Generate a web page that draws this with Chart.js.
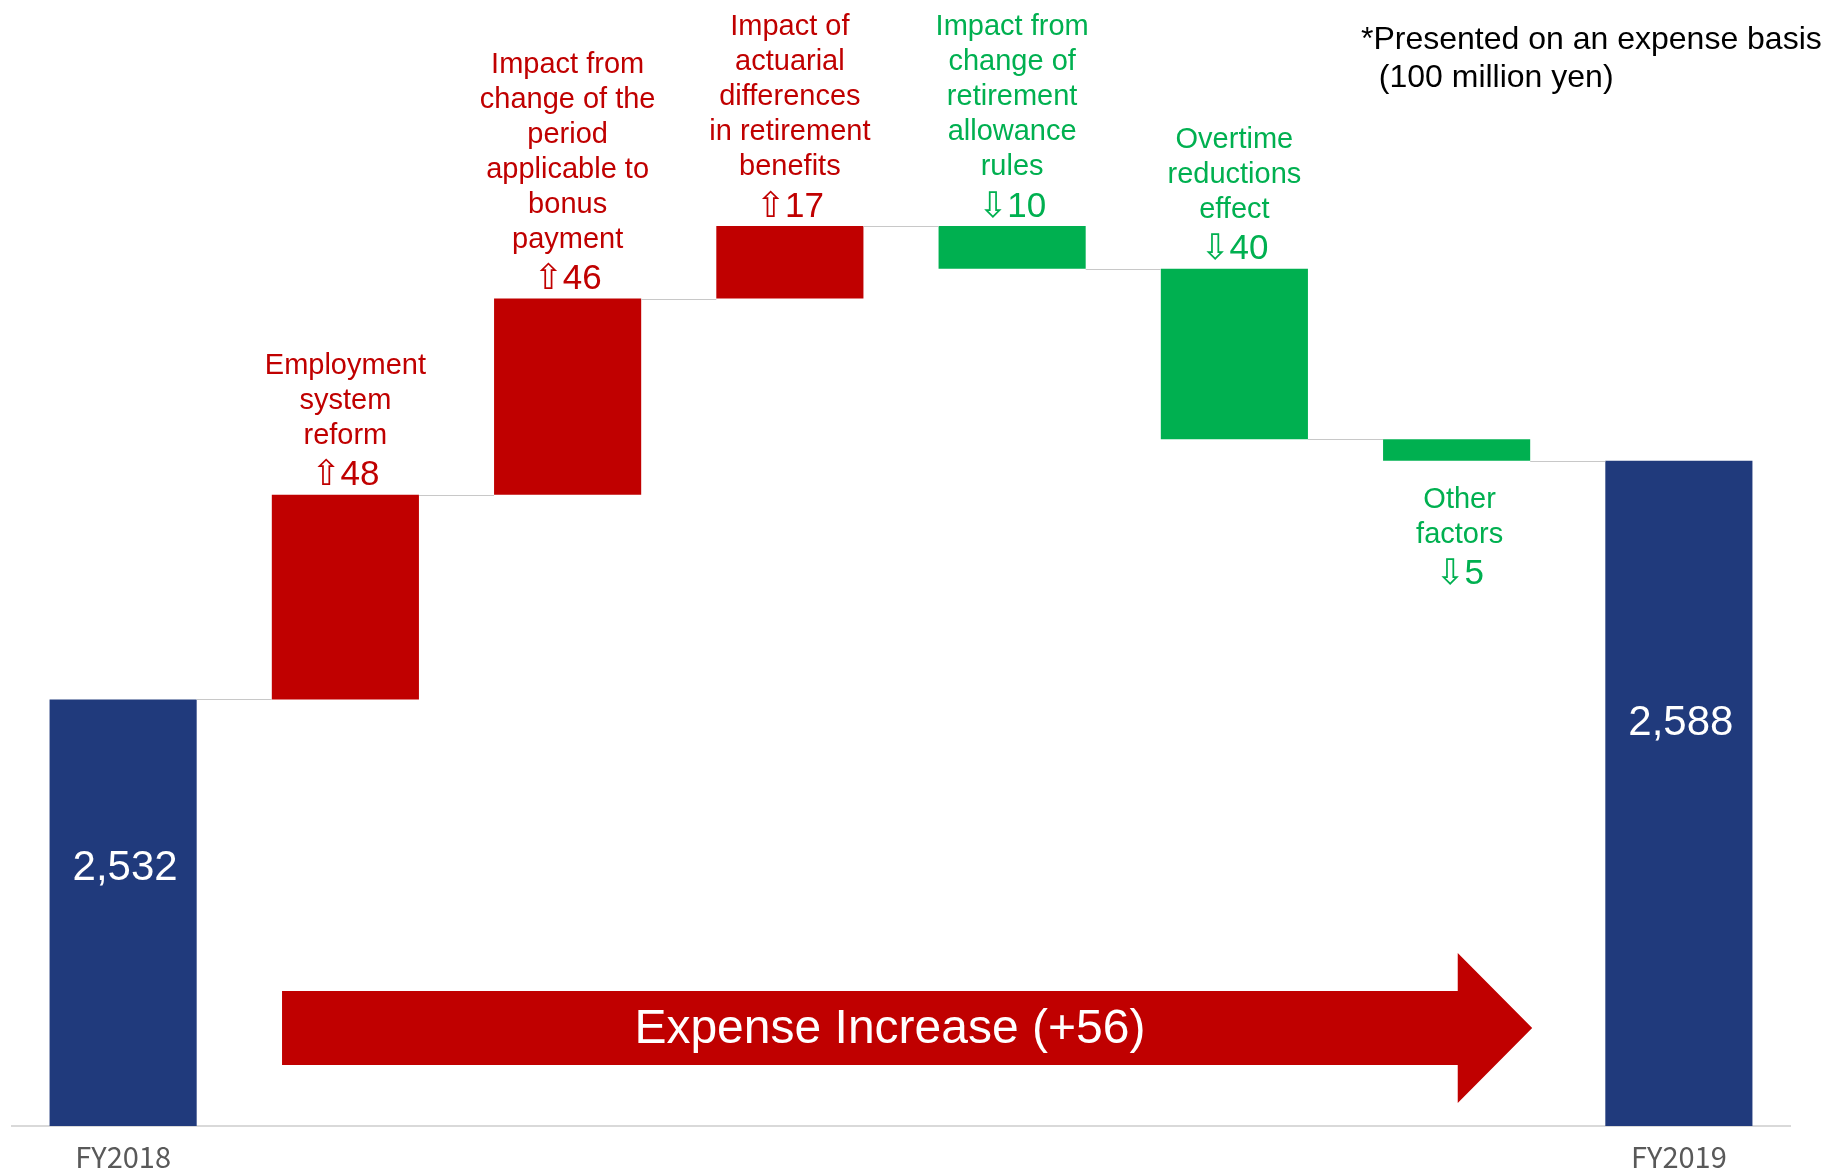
<!DOCTYPE html>
<html>
<head>
<meta charset="utf-8">
<script src="https://cdn.jsdelivr.net/npm/chart.js@4/dist/chart.umd.min.js"></script>
<style>
  html, body { margin: 0; padding: 0; background: #fff; }
  #wrap { width: 1840px; height: 1173px; position: relative; }
</style>
</head>
<body>
<div id="wrap"><canvas id="chart"></canvas></div>
<script>
// values in 100 million yen
const startLabel = 'FY2018'
const endLabel = 'FY2019'
const startValue = 2532
const endValue = 2588
const deltas = [48, 46, 17, -10, -40, -5]
const deltaLabels = [
  ['Employment', 'system', 'reform'],
  ['Impact from', 'change of the', 'period', 'applicable to', 'bonus', 'payment'],
  ['Impact of', 'actuarial', 'differences', 'in retirement', 'benefits'],
  ['Impact from', 'change of', 'retirement', 'allowance', 'rules'],
  ['Overtime', 'reductions', 'effect'],
  ['Other', 'factors']
]
const tickLabels = [startLabel, '', '', '', '', '', '', endLabel]
const noteLines = ['*Presented on an expense basis', '  (100 million yen)']

const NAVY = '#203A7C'
const RED = '#C00000'
const GREEN = '#00B050'
const FONT = '"Liberation Sans", Arial, "DejaVu Sans", sans-serif'

// running totals for the floating bars
let level = startValue
const barData = [startValue]
const levels = [startValue]
deltas.forEach(d => {
  barData.push([level, level + d])
  level += d
  levels.push(level)
})
barData.push(endValue)
levels.push(endValue)

const barColors = barData.map((v, i) => {
  if (!Array.isArray(v)) return NAVY
  return deltas[i - 1] >= 0 ? RED : GREEN
})

const fmt = n => n.toLocaleString('en-US')

const waterfallExtras = {
  id: 'waterfallExtras',
  afterDatasetsDraw(chart) {
    const ctx = chart.ctx
    const bars = chart.getDatasetMeta(0).data
    const x = chart.scales.x
    const y = chart.scales.y
    const area = chart.chartArea

    // connector lines between neighbouring bars
    ctx.save()
    ctx.strokeStyle = '#C8C8C8'
    ctx.lineWidth = 1
    for (let i = 0; i < bars.length - 1; i++) {
      const a = bars[i], b = bars[i + 1]
      const yLevel = Math.round(y.getPixelForValue(levels[i])) + 0.5
      ctx.beginPath()
      ctx.moveTo(a.x + a.width / 2, yLevel)
      ctx.lineTo(b.x - b.width / 2, yLevel)
      ctx.stroke()
    }
    ctx.restore()

    // change labels
    ctx.save()
    ctx.textAlign = 'center'
    ctx.textBaseline = 'middle'
    deltas.forEach((d, k) => {
      const bar = bars[k + 1]
      const lines = deltaLabels[k]
      const color = d >= 0 ? RED : GREEN
      const valueText = (d >= 0 ? '\u21E7' : '\u21E9') + Math.abs(d)
      ctx.fillStyle = color
      const p0 = y.getPixelForValue(levels[k])
      const p1 = y.getPixelForValue(levels[k + 1])
      const top = Math.min(p0, p1)
      const bottom = Math.max(p0, p1)
      if (k === deltas.length - 1) {
        // last one sits under its bar
        ctx.font = '29px ' + FONT
        lines.forEach((t, j) => ctx.fillText(t, bar.x + 3, bottom + 39 + j * 35))
        ctx.font = '35px ' + FONT
        ctx.fillText(valueText, bar.x + 3, bottom + 39 + (lines.length - 1) * 35 + 40)
      } else {
        ctx.font = '35px ' + FONT
        ctx.fillText(valueText, bar.x, top - 19)
        ctx.font = '29px ' + FONT
        lines.forEach((t, j) => {
          ctx.fillText(t, bar.x, top - 59 - (lines.length - 1 - j) * 35)
        })
      }
    })

    // totals inside the navy bars
    ctx.fillStyle = '#FFFFFF'
    ctx.font = '42px ' + FONT
    const totalIdx = [0, bars.length - 1]
    totalIdx.forEach(i => {
      const bar = bars[i]
      const yTop = y.getPixelForValue(barData[i])
      const yy = yTop + (area.bottom - yTop) * 0.395
      ctx.fillText(fmt(barData[i]), bar.x + 2, yy)
    })
    ctx.restore()

    // overall change arrow
    const diff = endValue - startValue
    const left = x.getPixelForValue(0.715)
    const headStart = x.getPixelForValue(6.005)
    const tip = x.getPixelForValue(6.34)
    const midY = area.bottom - 98
    const shaftHalf = 37
    const headHalf = 75
    ctx.save()
    ctx.fillStyle = RED
    ctx.beginPath()
    ctx.moveTo(left, midY - shaftHalf)
    ctx.lineTo(headStart, midY - shaftHalf)
    ctx.lineTo(headStart, midY - headHalf)
    ctx.lineTo(tip, midY)
    ctx.lineTo(headStart, midY + headHalf)
    ctx.lineTo(headStart, midY + shaftHalf)
    ctx.lineTo(left, midY + shaftHalf)
    ctx.closePath()
    ctx.fill()
    ctx.fillStyle = '#FFFFFF'
    ctx.font = '48px ' + FONT
    ctx.textAlign = 'center'
    ctx.textBaseline = 'middle'
    ctx.fillText('Expense ' + (diff >= 0 ? 'Increase' : 'Decrease') + ' (' + (diff >= 0 ? '+' : '') + diff + ')',
      x.getPixelForValue(3.45), midY + 2)

    // unit note
    ctx.fillStyle = '#000000'
    ctx.font = '32px ' + FONT
    ctx.textAlign = 'left'
    ctx.textBaseline = 'alphabetic'
    noteLines.forEach((t, j) => ctx.fillText(t, 1361, 49 + j * 38))
    ctx.restore()
  }
}

new Chart(
  document.getElementById('chart'),
  {
    type: 'bar',
    data: {
      labels: tickLabels,
      datasets: [
        {
          data: barData,
          backgroundColor: barColors,
          borderWidth: 0,
          categoryPercentage: 1,
          barPercentage: 0.662
        }
      ]
    },
    options: {
      responsive: true,
      maintainAspectRatio: false,
      animation: false,
      layout: {
        padding: { left: 12, right: 50, top: 0, bottom: 0 }
      },
      scales: {
        y: {
          display: false,
          min: 2432,
          max: 2696,
          grid: { display: false }
        },
        x: {
          grid: { display: false, drawTicks: false },
          border: { color: '#D9D9D9', width: 2 },
          afterFit(scale) {
            scale.height = 47
          },
          ticks: {
            color: '#595959',
            padding: 14,
            maxRotation: 0,
            autoSkip: false,
            font: { family: '"Liberation Sans Narrow", "Noto Sans CJK JP", sans-serif', size: 29 }
          }
        }
      },
      plugins: {
        legend: { display: false },
        tooltip: { enabled: false }
      }
    },
    plugins: [waterfallExtras]
  }
)
</script>
</body>
</html>
